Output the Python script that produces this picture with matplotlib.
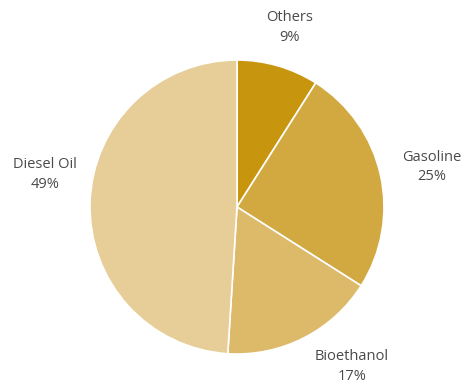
import matplotlib.pyplot as plt

labels = ["Others", "Gasoline", "Bioethanol", "Diesel Oil"]
shares = [9, 25, 17, 49]
colors = ["#C8960E", "#D1A940", "#DDB96A", "#E7CD98"]

# label centres in pie-radius units (picked to match the reference layout)
label_pos = [(0.36, 1.224), (1.327, 0.272), (0.782, -1.082), (-1.306, 0.224)]

plt.rcParams["font.family"] = ["Open Sans", "DejaVu Sans"]

fig = plt.figure(figsize=(4.66, 3.86), dpi=100)
ax = fig.add_axes([0, 0, 1, 1])

ax.pie(
    shares,
    colors=colors,
    startangle=90,
    counterclock=False,
    wedgeprops={"edgecolor": "white", "linewidth": 1.2},
)

for name, value, (x, y) in zip(labels, shares, label_pos):
    ax.text(x, y, f"{name}\n{value}%", ha="center", va="center",
            fontsize=10.5, color="#4a4a4a", linespacing=1.45)

# 147 px per unit, pie centre at (237, 207) px from top-left
ax.set_xlim(-237 / 147, (466 - 237) / 147)
ax.set_ylim(-(386 - 207) / 147, 207 / 147)
ax.set_aspect("auto")
ax.axis("off")

fig.savefig("out.png", dpi=100)
